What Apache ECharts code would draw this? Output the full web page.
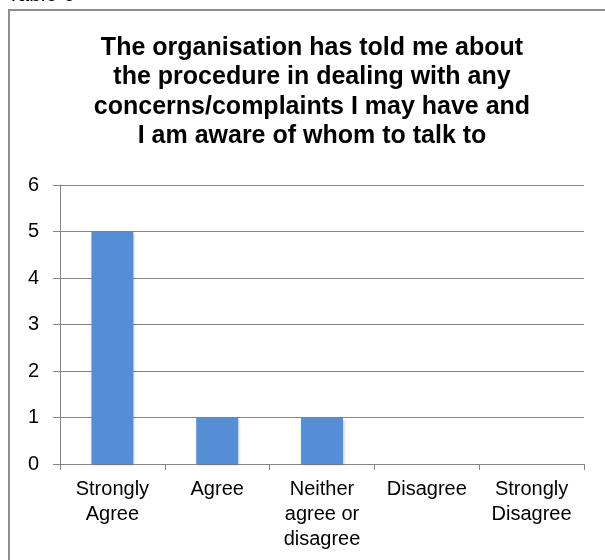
<!DOCTYPE html>
<html><head><meta charset="utf-8">
<script src="https://cdn.jsdelivr.net/npm/echarts@6/dist/echarts.min.js"></script>
<style>html,body{margin:0;padding:0;background:#fff}#c{width:605px;height:560px}</style>
</head><body><div id="c"></div>
<script>
const categories = ['Strongly\nAgree', 'Agree', 'Neither\nagree or\ndisagree', 'Disagree', 'Strongly\nDisagree'];
const values = [5, 1, 1, 0, 0];
const yTicks = [0, 1, 2, 3, 4, 5, 6];
const titleText = 'The organisation has told me about\nthe procedure in dealing with any\nconcerns/complaints I may have and\nI am aware of whom to talk to';
const captionText = 'Table 6';

const chart = echarts.init(document.getElementById('c'));
const font = '"Liberation Sans", Arial, sans-serif';
chart.setOption({
  animation: false,
  backgroundColor: '#fff',
  title: {
    text: titleText,
    left: 307, top: 28, textAlign: 'center',
    textStyle: { fontFamily: font, fontWeight: 'bold', fontSize: 25, lineHeight: 29.5, color: '#000' }
  },
  graphic: [
    { type: 'rect', shape: { x: 9, y: 10, width: 700, height: 700 }, style: { fill: 'none', stroke: '#8e8e8e', lineWidth: 2 }, silent: true },
    { type: 'text', x: 7, y: 6, style: { text: captionText, font: '21px "Liberation Sans", Arial, sans-serif', fill: '#000', verticalAlign: 'bottom' } }
  ],
  grid: { left: 60, right: 21, top: 185, bottom: 96, containLabel: false },
  xAxis: {
    type: 'category', data: categories,
    axisLine: { lineStyle: { color: '#868686', width: 1 } },
    axisTick: { show: true, length: 6, lineStyle: { color: '#868686' } },
    axisLabel: { color: '#000', fontFamily: font, fontSize: 20, lineHeight: 25, margin: 13, interval: 0 }
  },
  yAxis: {
    type: 'value', min: yTicks[0], max: yTicks[yTicks.length - 1], interval: 1,
    axisLine: { show: true, lineStyle: { color: '#868686', width: 1 } },
    axisTick: { show: true, length: 7, lineStyle: { color: '#868686' } },
    splitLine: { lineStyle: { color: '#868686', width: 1 } },
    axisLabel: { color: '#000', fontFamily: font, fontSize: 20, margin: 21 }
  },
  series: [{
    type: 'bar', data: values, barWidth: '40%',
    itemStyle: { color: '#558ed5', shadowColor: 'rgba(0,0,0,0.25)', shadowBlur: 3, shadowOffsetX: 1, shadowOffsetY: 1 }
  }]
});
</script></body></html>
